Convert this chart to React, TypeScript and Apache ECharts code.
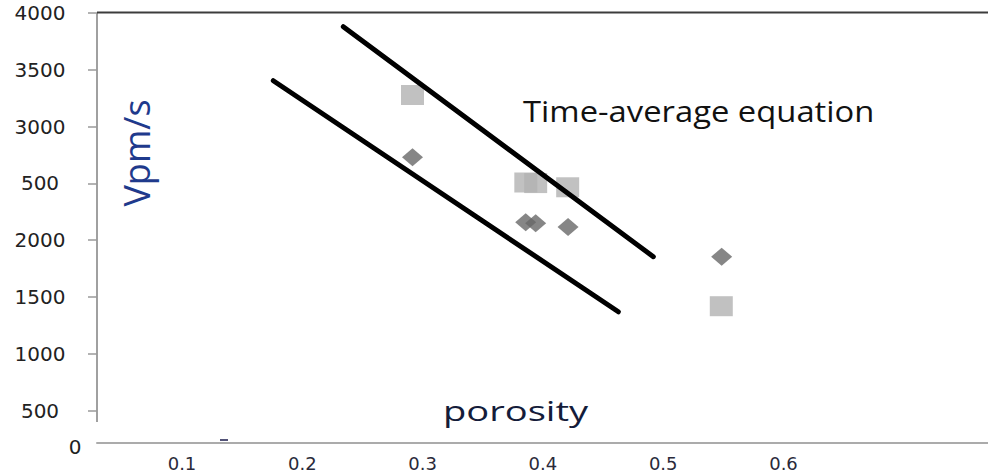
import React, { useEffect, useRef } from "react";
import * as echarts from "echarts";

// porosity, Vp (m/s)
const squarePoints: [number, number][] = [
  [0.2916, 3278],
  [0.3858, 2508],
  [0.394, 2503],
  [0.4206, 2466],
  [0.5483, 1419],
];
const diamondPoints: [number, number][] = [
  [0.2916, 2730],
  [0.3857, 2158],
  [0.394, 2149],
  [0.4209, 2116],
  [0.5486, 1855],
];
const upperLine: [number, number][] = [
  [0.2341, 3879],
  [0.4918, 1855],
];
const lowerLine: [number, number][] = [
  [0.1759, 3404],
  [0.4627, 1370],
];
const xTickValues = [0.1, 0.2, 0.3, 0.4, 0.5, 0.6];
const yTickValues = [500, 1000, 1500, 2000, 2500, 3000, 3500, 4000];
const yTickLabels = ["500", "1000", "1500", "2000", "500", "3000", "3500", "4000"];

export default function App() {
  const ref = useRef<HTMLDivElement>(null);
  useEffect(() => {
    if (!ref.current) return;
    const chart = echarts.init(ref.current, null, { renderer: "svg" });
    chart.setOption({
      animation: false,
      backgroundColor: "#ffffff",
      grid: {
        left: 97,
        right: 0,
        top: 13,
        bottom: 29,
        containLabel: false,
        outerBoundsMode: "none",
      },
      xAxis: {
        type: "value",
        min: 0.02934,
        max: 0.77,
        splitLine: { show: false },
        axisTick: { show: false },
        axisLine: { show: true, lineStyle: { color: "#ababab", width: 2 } },
        axisLabel: {
          customValues: xTickValues,
          formatter: (v: number) => v.toFixed(1),
          fontFamily: "DejaVu Sans",
          fontSize: 18,
          color: "#2a2a3a",
          margin: 11,
        },
      },
      yAxis: {
        type: "value",
        min: 215,
        max: 4000,
        splitLine: { show: false },
        axisLine: { show: false },
        axisTick: {
          show: true,
          customValues: yTickValues,
          length: 9,
          lineStyle: { color: "#9a9a9a", width: 1.5 },
        },
        axisLabel: {
          customValues: yTickValues,
          formatter: (v: number) => {
            const i = yTickValues.indexOf(Math.round(v));
            return i >= 0 ? yTickLabels[i] : "";
          },
          fontFamily: "DejaVu Sans",
          fontSize: 20,
          color: "#222222",
          align: "center",
          margin: 57,
        },
      },
      graphic: [
        { type: "line", shape: { x1: 97, y1: 13, x2: 97, y2: 422 }, style: { stroke: "#a0a0a0", lineWidth: 2 } },
        { type: "line", shape: { x1: 97, y1: 12.5, x2: 988, y2: 12.5 }, style: { stroke: "#3c3c3c", lineWidth: 2 } },
        { type: "line", shape: { x1: 797, y1: 443, x2: 988, y2: 443 }, style: { stroke: "#333333", lineWidth: 2 } },
        { type: "line", shape: { x1: 220, y1: 440, x2: 228, y2: 440 }, style: { stroke: "#1a1a4a", lineWidth: 1.5 } },
        {
          type: "text",
          x: 75,
          y: 447,
          style: { text: "0", fontFamily: "DejaVu Sans", fontSize: 20, fill: "#222222", align: "center", verticalAlign: "middle" },
        },
        {
          type: "text",
          x: 136,
          y: 153,
          rotation: Math.PI / 2,
          style: { text: "Vpm/s", fontFamily: "Open Sans", fontSize: 36, fill: "#1f3a8c", align: "center", verticalAlign: "middle" },
        },
        {
          type: "text",
          x: 443,
          y: 410,
          scaleX: 1.36,
          style: { text: "porosity", fontFamily: "Open Sans", fontSize: 28, fill: "#141c3a", align: "left", verticalAlign: "middle" },
        },
        {
          type: "text",
          x: 523,
          y: 111,
          scaleX: 1.13,
          style: { text: "Time-average equation", fontFamily: "Open Sans", fontSize: 29, fill: "#111111", align: "left", verticalAlign: "middle" },
        },
      ],
      series: [
        {
          type: "line",
          data: upperLine,
          symbol: "none",
          lineStyle: { color: "#000000", width: 5, cap: "round" },
        },
        {
          type: "line",
          data: lowerLine,
          symbol: "none",
          lineStyle: { color: "#000000", width: 5, cap: "round" },
        },
        {
          type: "scatter",
          data: squarePoints,
          symbol: "rect",
          symbolSize: [23, 20],
          itemStyle: { color: "#b2b2b2" },
        },
        {
          type: "scatter",
          data: diamondPoints,
          symbol: "diamond",
          symbolSize: [21, 18],
          itemStyle: { color: "#686868" },
        },
      ],
    });
    return () => chart.dispose();
  }, []);
  return (
    <div
      ref={ref}
      style={{ position: "fixed", left: 0, top: 0, width: 988, height: 472 }}
    />
  );
}
